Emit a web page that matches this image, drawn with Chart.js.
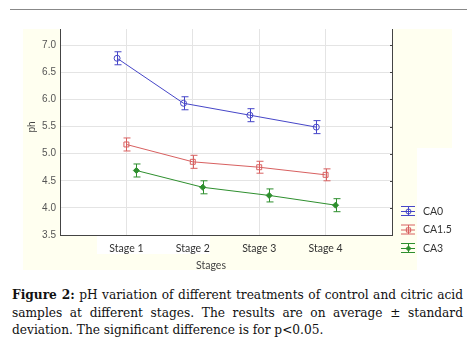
<!DOCTYPE html>
<html>
<head>
<meta charset="utf-8">
<script src="https://cdn.jsdelivr.net/npm/chart.js@4/dist/chart.umd.min.js"></script>
<style>
  body { margin: 0; background: #fff; width: 473px; height: 352px; overflow: hidden; position: relative; }
  #wrap { position: absolute; left: 0; top: 0; width: 473px; height: 280px; }
  #caption {
    position: absolute; left: 12px; top: 287px; width: 451px;
    font-family: "DejaVu Serif", serif; font-size: 12.2px; line-height: 17.5px;
    text-align: justify; color: #111;
  }
</style>
</head>
<body>
<div id="wrap"><canvas id="phChart"></canvas></div>
<div id="caption"><b>Figure 2:</b> pH variation of different treatments of control and citric acid samples at different stages. The results are on average ± standard deviation. The significant difference is for p&lt;0.05.</div>
<script>
// data
const stages = ['Stage 1', 'Stage 2', 'Stage 3', 'Stage 4'];
const seriesNames = ['CA0', 'CA1.5', 'CA3'];
const ca0 = [6.76, 5.93, 5.71, 5.49];
const ca15 = [5.17, 4.85, 4.75, 4.61];
const ca3 = [4.69, 4.38, 4.23, 4.05];
const ca0Sd = [0.12, 0.12, 0.12, 0.12];
const ca15Sd = [0.12, 0.12, 0.11, 0.11];
const ca3Sd = [0.12, 0.12, 0.12, 0.12];
const yTicks = [3.5, 4.0, 4.5, 5.0, 5.5, 6.0, 6.5, 7.0];

const colors = ['#4646c8', '#d86060', '#2e8f2e'];
const shift = [-0.14, 0, 0.15]; // small horizontal dodge per series
const styles = [
    { pointStyle: 'circle', radius: 3, fill: false },
    { pointStyle: 'rect', radius: 3.5, fill: false },
    { pointStyle: 'rectRot', radius: 3, fill: true }
];

function makeSet(i, values, sd) {
    return {
        label: seriesNames[i],
        data: values.map((v, k) => ({ x: k + 1 + shift[i], y: v })),
        sd: sd,
        borderColor: colors[i],
        backgroundColor: styles[i].fill ? colors[i] : 'rgba(0,0,0,0)',
        borderWidth: 1,
        pointStyle: styles[i].pointStyle,
        pointRadius: styles[i].radius,
        pointBorderWidth: 1,
        tension: 0
    };
}

// pale page background + top rule
const backdrop = {
    id: 'backdrop',
    beforeDraw(chart) {
        const c = chart.ctx;
        c.save();
        c.fillStyle = '#fffff0';
        c.fillRect(23, 29, 37, 241);
        c.fillRect(392, 29, 60, 119);
        c.fillRect(392, 148, 25, 120);
        c.fillRect(23, 254, 394, 16);
        c.fillRect(60, 235, 37, 19);
        c.fillRect(210, 235, 182, 19);
        c.fillStyle = '#fff';
        c.fillRect(60, 29, 332, 206);
        c.strokeStyle = '#888';
        c.lineWidth = 1;
        c.beginPath();
        c.moveTo(10, 9.5);
        c.lineTo(467, 9.5);
        c.stroke();
        c.restore();
    }
};

// error bars, right-axis ticks, titles and legend
const extras = {
    id: 'extras',
    afterDatasetsDraw(chart) {
        const c = chart.ctx;
        const ys = chart.scales.y;
        c.save();
        chart.data.datasets.forEach((ds, i) => {
            const meta = chart.getDatasetMeta(i);
            c.strokeStyle = ds.borderColor;
            c.lineWidth = 1;
            meta.data.forEach((pt, k) => {
                const v = ds.data[k].y;
                const top = ys.getPixelForValue(v + ds.sd[k]);
                const bot = ys.getPixelForValue(v - ds.sd[k]);
                const x = Math.round(pt.x) + 0.5;
                c.beginPath();
                c.moveTo(x, top); c.lineTo(x, bot);
                c.moveTo(x - 3, top); c.lineTo(x + 4, top);
                c.moveTo(x - 3, bot); c.lineTo(x + 4, bot);
                c.stroke();
            });
        });
        c.restore();
    },
    afterDraw(chart) {
        const c = chart.ctx;
        const ys = chart.scales.y;
        const area = chart.chartArea;
        c.save();
        // inward ticks on right axis
        c.strokeStyle = '#444';
        c.lineWidth = 1;
        yTicks.forEach(t => {
            const y = Math.round(ys.getPixelForValue(t)) + 0.5;
            c.beginPath();
            c.moveTo(area.right - 2, y);
            c.lineTo(area.right, y);
            c.stroke();
        });
        // axis titles
        c.fillStyle = '#444';
        c.font = '10px "Liberation Sans", Arial, sans-serif';
        c.textAlign = 'center';
        c.textBaseline = 'middle';
        c.save();
        c.translate(32, 127);
        c.rotate(-Math.PI / 2);
        c.fillText('ph', 0, 0);
        c.restore();
        c.font = '10.5px Lato, sans-serif';
        c.fillText('Stages', 211, 266);
        // legend
        c.textAlign = 'left';
        c.font = '10.5px Lato, sans-serif';
        chart.data.datasets.forEach((ds, i) => {
            const y = 211 + i * 18.5;
            const x0 = 401, x1 = 415, xm = 408;
            c.strokeStyle = ds.borderColor;
            c.beginPath();
            c.moveTo(x0, y - 4.5); c.lineTo(x1, y - 4.5);
            c.moveTo(x0, y + 0.5); c.lineTo(x1, y + 0.5);
            c.moveTo(x0, y + 4.5); c.lineTo(x1, y + 4.5);
            c.moveTo(xm + 0.5, y - 4.5); c.lineTo(xm + 0.5, y + 4.5);
            c.stroke();
            c.fillStyle = styles[i].fill ? ds.borderColor : 'rgba(0,0,0,0)';
            Chart.helpers.drawPoint(c, {
                pointStyle: styles[i].pointStyle,
                radius: styles[i].radius - 0.5,
                borderWidth: 1,
                rotation: 0
            }, xm + 0.5, y + 0.5);
            c.fillStyle = '#333';
            c.fillText(ds.label, 423, y + 0.5);
        });
        c.restore();
    }
};

new Chart(document.getElementById('phChart'), {
    type: 'line',
    data: {
        datasets: [
            makeSet(0, ca0, ca0Sd),
            makeSet(1, ca15, ca15Sd),
            makeSet(2, ca3, ca3Sd)
        ]
    },
    options: {
        responsive: true,
        maintainAspectRatio: false,
        animation: false,
        layout: { padding: { left: 22, top: 29, right: 81, bottom: 0 } },
        plugins: {
            legend: { display: false },
            tooltip: { enabled: false }
        },
        scales: {
            x: {
                type: 'linear',
                min: 0,
                max: 5,
                afterBuildTicks: s => { s.ticks = [0, 1, 2, 3, 4, 5].map(v => ({ value: v })); },
                afterFit: s => { s.height = 45; },
                ticks: {
                    callback: v => stages[v - 1] || '',
                    color: '#333',
                    font: { family: 'Lato', size: 10.5 },
                    padding: 7,
                    maxRotation: 0,
                    autoSkip: false
                },
                grid: {
                    color: ctx => (ctx.tick && ctx.tick.value >= 1 && ctx.tick.value <= 4) ? '#e4e4e4' : 'rgba(0,0,0,0)',
                    drawTicks: false
                },
                border: { color: '#444', width: 1 }
            },
            y: {
                min: 3.5,
                max: 7.3,
                afterBuildTicks: s => { s.ticks = yTicks.map(v => ({ value: v })); },
                afterFit: s => { s.width = 38; },
                ticks: {
                    callback: v => v.toFixed(1),
                    color: '#555',
                    font: { family: '"Liberation Sans", Arial', size: 10 },
                    padding: 4
                },
                grid: { color: '#e4e4e4', drawTicks: false },
                border: { color: '#444', width: 1 }
            },
            y2: {
                position: 'right',
                min: 3.5,
                max: 7.3,
                afterFit: s => { s.width = 0; },
                ticks: { display: false },
                grid: { drawOnChartArea: false, drawTicks: false },
                border: { color: '#444', width: 1 }
            }
        }
    },
    plugins: [backdrop, extras]
});
</script>
</body>
</html>
